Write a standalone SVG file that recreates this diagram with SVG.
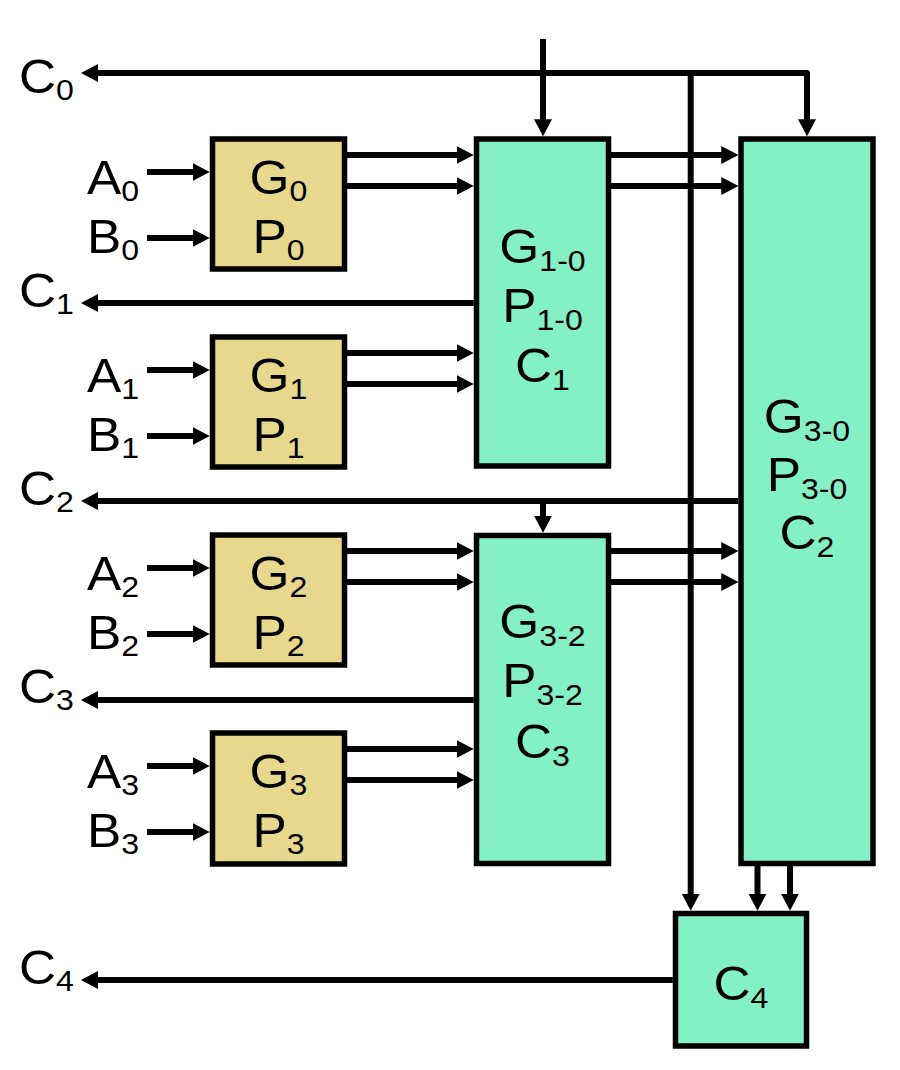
<svg xmlns="http://www.w3.org/2000/svg" width="900" height="1070" viewBox="0 0 900 1070">
<style>
.yb{fill:#E8D88E;stroke:#000;stroke-width:5.5}
.gb{fill:#84F0C5;stroke:#000;stroke-width:5.5}
.ln{fill:none;stroke:#000;stroke-width:6;stroke-linejoin:round}
.ar{marker-end:url(#ah)}
text{font-family:"Liberation Sans",Arial,Helvetica,sans-serif;font-size:48px;fill:#000}
.m{text-anchor:middle}
.s{font-size:30px}
</style>
<defs>
<marker id="ah" markerUnits="userSpaceOnUse" markerWidth="17" markerHeight="18" viewBox="0 0 17 18" refX="1" refY="9" orient="auto-start-reverse">
<path d="M0,0 L17,9 L0,18 Z" fill="#000"/>
</marker>
</defs>

<g id="connectors">
<path class="ln" d="M97,73 H807 V120.25" marker-start="url(#ah)" marker-end="url(#ah)"/>
<path class="ln ar" d="M543,39 V120.25"/>
<path class="ln ar" d="M690.7,73 V894.75"/>
<path class="ln ar" d="M473.75,303 H97"/>
<path class="ln ar" d="M738.25,501 H97"/>
<path class="ln ar" d="M543,501 V516.75"/>
<path class="ln ar" d="M473.75,700 H97"/>
<path class="ln ar" d="M672.75,980 H97"/>
<path class="ln ar" d="M757.5,866 V894.75"/>
<path class="ln ar" d="M790,866 V894.75"/>
<path class="ln ar" d="M147,172 H193.75"/>
<path class="ln ar" d="M147,238 H193.75"/>
<path class="ln ar" d="M147,370 H193.75"/>
<path class="ln ar" d="M147,436 H193.75"/>
<path class="ln ar" d="M147,568 H193.75"/>
<path class="ln ar" d="M147,634 H193.75"/>
<path class="ln ar" d="M147,766 H193.75"/>
<path class="ln ar" d="M147,832 H193.75"/>
<path class="ln ar" d="M347,155 H457.75"/>
<path class="ln ar" d="M347,186 H457.75"/>
<path class="ln ar" d="M347,353 H457.75"/>
<path class="ln ar" d="M347,384 H457.75"/>
<path class="ln ar" d="M347,551 H457.75"/>
<path class="ln ar" d="M347,582 H457.75"/>
<path class="ln ar" d="M347,749 H457.75"/>
<path class="ln ar" d="M347,780 H457.75"/>
<path class="ln ar" d="M611,155 H722.25"/>
<path class="ln ar" d="M611,186 H722.25"/>
<path class="ln ar" d="M611,551 H722.25"/>
<path class="ln ar" d="M611,582 H722.25"/>
</g>

<g id="labels">
<text transform="translate(19,93) scale(1.07,1)">C<tspan class="s" dy="7">0</tspan></text>
<text transform="translate(19,306.5) scale(1.07,1)">C<tspan class="s" dy="7">1</tspan></text>
<text transform="translate(19,504.5) scale(1.07,1)">C<tspan class="s" dy="7">2</tspan></text>
<text transform="translate(19,702.5) scale(1.07,1)">C<tspan class="s" dy="7">3</tspan></text>
<text transform="translate(19,984) scale(1.07,1)">C<tspan class="s" dy="7">4</tspan></text>
<text transform="translate(87,194) scale(1.07,1)">A<tspan class="s" dy="7">0</tspan></text>
<text transform="translate(87,252.5) scale(1.07,1)">B<tspan class="s" dy="7">0</tspan></text>
<text transform="translate(87,392) scale(1.07,1)">A<tspan class="s" dy="7">1</tspan></text>
<text transform="translate(87,450.5) scale(1.07,1)">B<tspan class="s" dy="7">1</tspan></text>
<text transform="translate(87,590) scale(1.07,1)">A<tspan class="s" dy="7">2</tspan></text>
<text transform="translate(87,648.5) scale(1.07,1)">B<tspan class="s" dy="7">2</tspan></text>
<text transform="translate(87,788) scale(1.07,1)">A<tspan class="s" dy="7">3</tspan></text>
<text transform="translate(87,846.5) scale(1.07,1)">B<tspan class="s" dy="7">3</tspan></text>
</g>

<g id="gp0">
<rect class="yb" x="212.5" y="139" width="132" height="130"/>
<text class="m" transform="translate(278.5,194) scale(1.07,1)">G<tspan class="s" dy="7">0</tspan></text>
<text class="m" transform="translate(278.5,252.5) scale(1.07,1)">P<tspan class="s" dy="7">0</tspan></text>
</g>
<g id="gp1">
<rect class="yb" x="212.5" y="337" width="132" height="130"/>
<text class="m" transform="translate(278.5,392) scale(1.07,1)">G<tspan class="s" dy="7">1</tspan></text>
<text class="m" transform="translate(278.5,450.5) scale(1.07,1)">P<tspan class="s" dy="7">1</tspan></text>
</g>
<g id="gp2">
<rect class="yb" x="212.5" y="535" width="132" height="130"/>
<text class="m" transform="translate(278.5,590) scale(1.07,1)">G<tspan class="s" dy="7">2</tspan></text>
<text class="m" transform="translate(278.5,648.5) scale(1.07,1)">P<tspan class="s" dy="7">2</tspan></text>
</g>
<g id="gp3">
<rect class="yb" x="212.5" y="733" width="132" height="131"/>
<text class="m" transform="translate(278.5,788) scale(1.07,1)">G<tspan class="s" dy="7">3</tspan></text>
<text class="m" transform="translate(278.5,846.5) scale(1.07,1)">P<tspan class="s" dy="7">3</tspan></text>
</g>

<g id="gp10">
<rect class="gb" x="476.5" y="139" width="132" height="327"/>
<text class="m" transform="translate(542.5,263) scale(1.07,1)">G<tspan class="s" dy="8">1-0</tspan></text>
<text class="m" transform="translate(542.5,322) scale(1.07,1)">P<tspan class="s" dy="8">1-0</tspan></text>
<text class="m" transform="translate(542.5,381.5) scale(1.07,1)">C<tspan class="s" dy="8">1</tspan></text>
</g>
<g id="gp32">
<rect class="gb" x="476.5" y="535.5" width="132" height="328"/>
<text class="m" transform="translate(542.5,637.5) scale(1.07,1)">G<tspan class="s" dy="8">3-2</tspan></text>
<text class="m" transform="translate(542.5,697) scale(1.07,1)">P<tspan class="s" dy="8">3-2</tspan></text>
<text class="m" transform="translate(542.5,757.5) scale(1.07,1)">C<tspan class="s" dy="8">3</tspan></text>
</g>
<g id="gp30">
<rect class="gb" x="741" y="139" width="132" height="724.5"/>
<text class="m" transform="translate(807,432.5) scale(1.07,1)">G<tspan class="s" dy="8">3-0</tspan></text>
<text class="m" transform="translate(807,490.5) scale(1.07,1)">P<tspan class="s" dy="8">3-0</tspan></text>
<text class="m" transform="translate(807,549) scale(1.07,1)">C<tspan class="s" dy="8">2</tspan></text>
</g>
<g id="c4">
<rect class="gb" x="675.5" y="913.5" width="131" height="132.5"/>
<text class="m" transform="translate(741,1000) scale(1.07,1)">C<tspan class="s" dy="8">4</tspan></text>
</g>
</svg>
